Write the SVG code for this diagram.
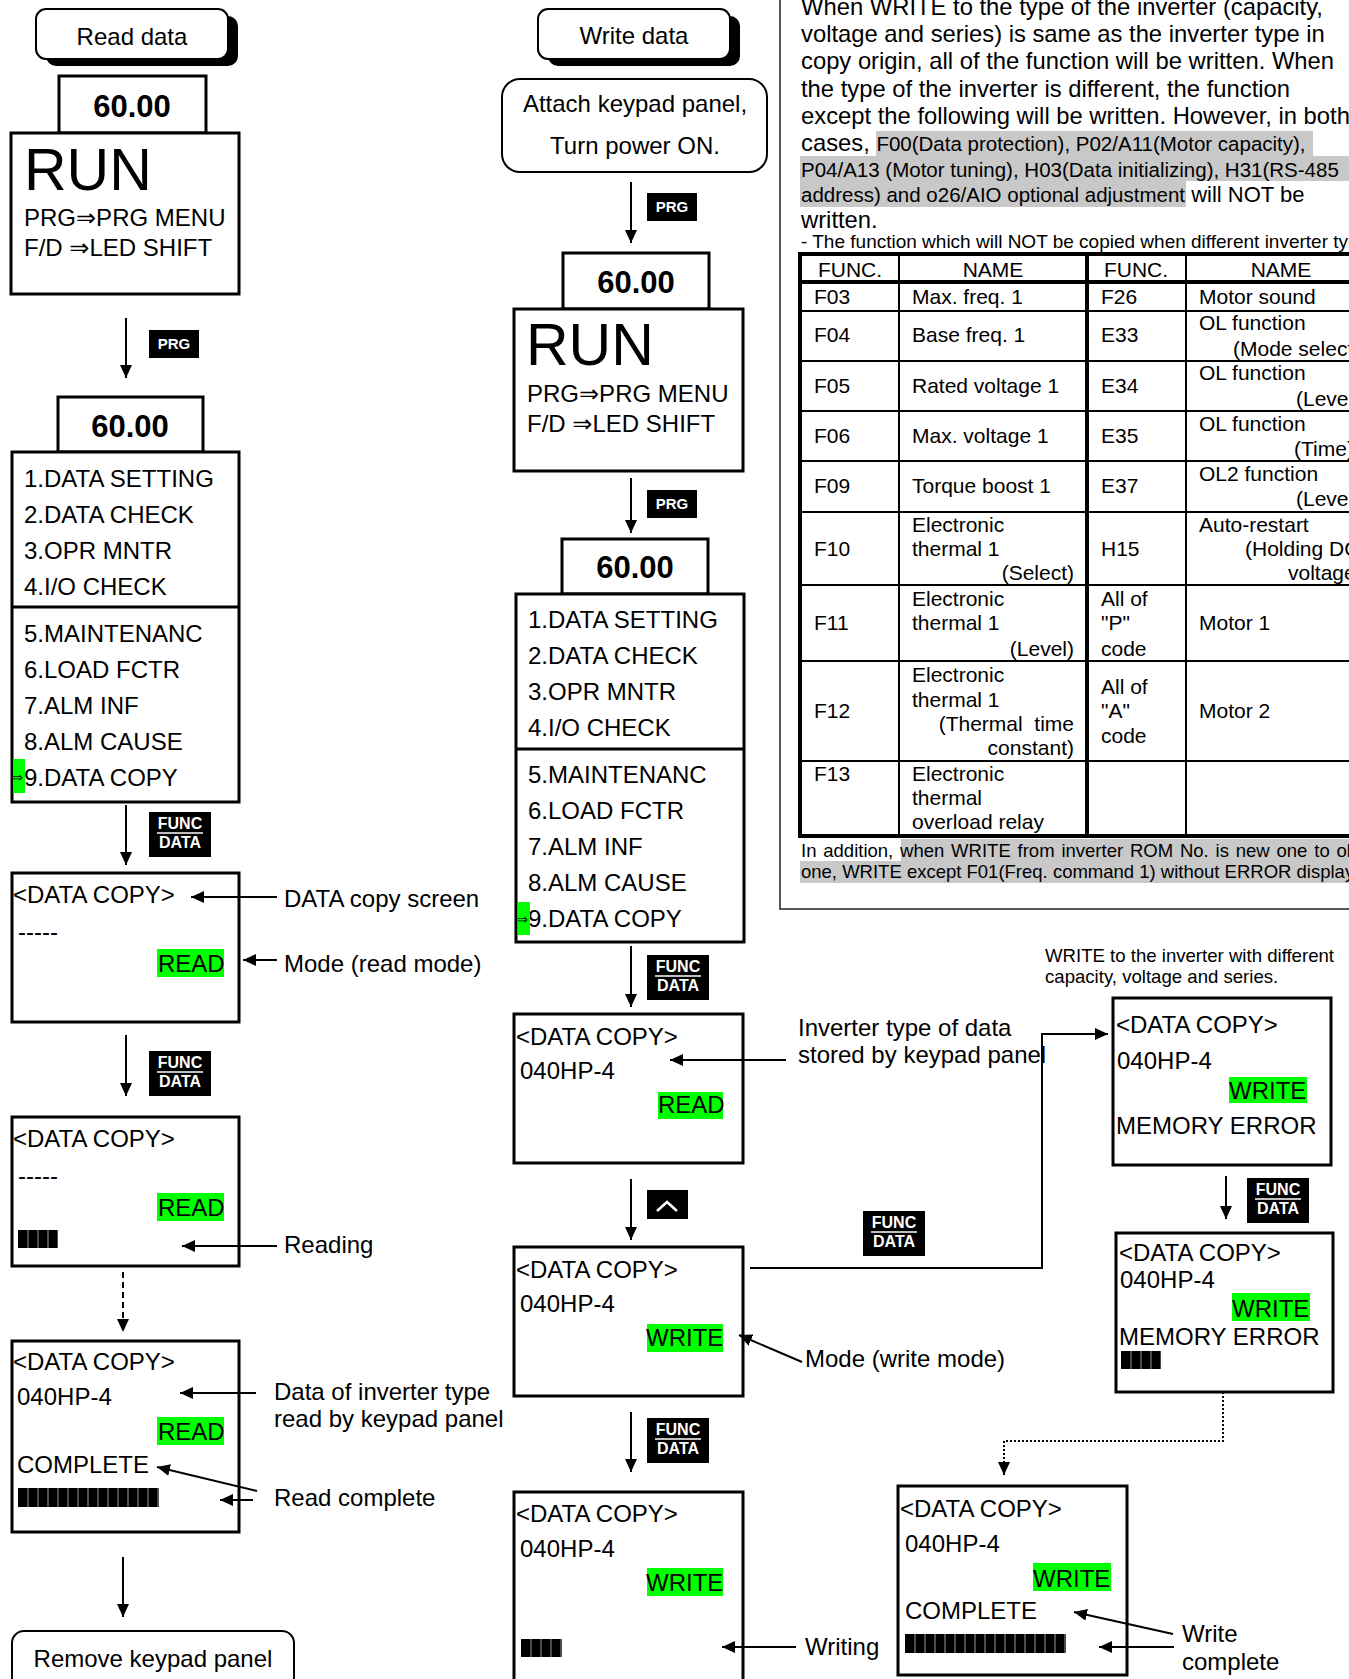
<svg xmlns="http://www.w3.org/2000/svg" width="1349" height="1679" viewBox="0 0 1349 1679">
<defs>
<marker id="ah" markerUnits="userSpaceOnUse" markerWidth="14" markerHeight="12" refX="13" refY="6" orient="auto"><path d="M0,0 L13,6 L0,12 z" fill="#000"/></marker>
<style>
text{font-family:"Liberation Sans",Arial,"DejaVu Sans",sans-serif;fill:#000}
.s24{font-size:24px}
.b{fill:#fff;stroke:#000;stroke-width:3}
.rb{fill:#fff;stroke:#000;stroke-width:2}
.c{fill:none;stroke:#000;stroke-width:2}
.ca{fill:none;stroke:#000;stroke-width:2;marker-end:url(#ah)}
.g{fill:#00ff00}
.num{font-size:31px;font-weight:bold;text-anchor:middle}
.run{font-size:59px}
.fdt{font-size:16px;font-weight:bold;fill:#fff;text-anchor:middle}
.pt{font-size:15px;font-weight:bold;fill:#fff;text-anchor:middle}
.p{font-size:23.8px}
.ps{font-size:20.5px}
.tb{font-size:21px}
.tm{text-anchor:middle}
.te{text-anchor:end}
.hl{fill:#c8c8c8}
.tk{stroke:#000;stroke-width:4}
.tn{stroke:#000;stroke-width:2}
.bar{stroke:#999;stroke-dasharray:1 9}
</style>
<g id="fd"><rect width="62" height="45" fill="#000"/><text x="31" y="17" class="fdt">FUNC</text><line x1="8" y1="21" x2="54" y2="21" stroke="#fff" stroke-width="1.5"/><text x="31" y="36" class="fdt">DATA</text></g>
<g id="prg"><rect width="50" height="28" fill="#000"/><text x="25" y="19" class="pt">PRG</text></g>
</defs>
<rect width="1349" height="1679" fill="#fff"/>

<!-- right info panel -->
<g id="info-panel">
<rect x="780" y="-10" width="620" height="919" fill="none" stroke="#555" stroke-width="2"/>
<rect class="hl" x="876" y="131" width="437" height="25"/>
<rect class="hl" x="800" y="156" width="549" height="25"/>
<rect class="hl" x="800" y="181" width="386" height="26"/>
<text class="p" x="801" y="15">When WRITE to the type of the inverter (capacity,</text>
<text class="p" x="801" y="42">voltage and series) is same as the inverter type in</text>
<text class="p" x="801" y="69">copy origin, all of the function will be written. When</text>
<text class="p" x="801" y="97">the type of the inverter is different, the function</text>
<text class="p" x="801" y="124">except the following will be written. However, in both</text>
<text class="p" x="801" y="151">cases, <tspan class="ps">F00(Data protection), P02/A11(Motor capacity),</tspan></text>
<text class="ps" x="801" y="177">P04/A13 (Motor tuning), H03(Data initializing), H31(RS-485</text>
<text class="ps" x="801" y="202">address) and o26/AIO optional adjustment<tspan font-size="22px"> will NOT be</tspan></text>
<text class="p" x="801" y="228">written.</text>
<text x="801" y="248" font-size="19px">- The function which will NOT be copied when different inverter type</text>
</g>

<g id="table">
<line class="tn" x1="800" y1="311" x2="1349" y2="311"/>
<line class="tn" x1="800" y1="361" x2="1349" y2="361"/>
<line class="tn" x1="800" y1="411" x2="1349" y2="411"/>
<line class="tn" x1="800" y1="461" x2="1349" y2="461"/>
<line class="tn" x1="800" y1="512" x2="1349" y2="512"/>
<line class="tn" x1="800" y1="585" x2="1349" y2="585"/>
<line class="tn" x1="800" y1="661" x2="1349" y2="661"/>
<line class="tn" x1="800" y1="761" x2="1349" y2="761"/>
<line class="tn" x1="899" y1="254" x2="899" y2="836"/>
<line class="tn" x1="1186" y1="254" x2="1186" y2="836"/>
<line class="tk" x1="1087" y1="254" x2="1087" y2="836"/>
<line class="tk" x1="800" y1="252" x2="800" y2="838"/>
<line class="tk" x1="798" y1="254" x2="1349" y2="254"/>
<line class="tk" x1="798" y1="282" x2="1349" y2="282"/>
<line class="tk" x1="798" y1="836" x2="1349" y2="836"/>
<g class="tb">
<text class="tm" x="850" y="277">FUNC.</text><text class="tm" x="993" y="277">NAME</text><text class="tm" x="1136" y="277">FUNC.</text><text class="tm" x="1281" y="277">NAME</text>
<text x="814" y="304">F03</text><text x="912" y="304">Max. freq. 1</text><text x="1101" y="304">F26</text><text x="1199" y="304">Motor sound</text>
<text x="814" y="342">F04</text><text x="912" y="342">Base freq. 1</text><text x="1101" y="342">E33</text><text x="1199" y="330">OL function</text><text x="1233" y="356">(Mode select)</text>
<text x="814" y="393">F05</text><text x="912" y="393">Rated voltage 1</text><text x="1101" y="393">E34</text><text x="1199" y="380">OL function</text><text x="1296" y="406">(Level)</text>
<text x="814" y="443">F06</text><text x="912" y="443">Max. voltage 1</text><text x="1101" y="443">E35</text><text x="1199" y="431">OL function</text><text x="1294" y="456">(Time)</text>
<text x="814" y="493">F09</text><text x="912" y="493">Torque boost 1</text><text x="1101" y="493">E37</text><text x="1199" y="481">OL2 function</text><text x="1296" y="506">(Level)</text>
<text x="814" y="556">F10</text><text x="912" y="532">Electronic</text><text x="912" y="556">thermal 1</text><text class="te" x="1074" y="580">(Select)</text><text x="1101" y="556">H15</text><text x="1199" y="532">Auto-restart</text><text x="1245" y="556">(Holding DC</text><text x="1288" y="580">voltage)</text>
<text x="814" y="630">F11</text><text x="912" y="606">Electronic</text><text x="912" y="630">thermal 1</text><text class="te" x="1074" y="656">(Level)</text><text x="1101" y="606">All of</text><text x="1101" y="630">"P"</text><text x="1101" y="656">code</text><text x="1199" y="630">Motor 1</text>
<text x="814" y="718">F12</text><text x="912" y="682">Electronic</text><text x="912" y="707">thermal 1</text><text class="te" x="1074" y="731" xml:space="preserve">(Thermal  time</text><text class="te" x="1074" y="755">constant)</text><text x="1101" y="694">All of</text><text x="1101" y="718">"A"</text><text x="1101" y="743">code</text><text x="1199" y="718">Motor 2</text>
<text x="814" y="781">F13</text><text x="912" y="781">Electronic</text><text x="912" y="805">thermal</text><text x="912" y="829">overload relay</text>
</g>
<rect class="hl" x="901" y="839" width="448" height="22"/>
<rect class="hl" x="800" y="861" width="549" height="22"/>
<text x="801" y="857" font-size="18.5px" word-spacing="1.7">In addition, when WRITE from inverter ROM No. is new one to old</text>
<text x="801" y="878" font-size="18.5px">one, WRITE except F01(Freq. command 1) without ERROR display.</text>
</g>

<!-- LEFT COLUMN -->
<g id="read-data"><rect x="46" y="16" width="192" height="50" rx="10" fill="#000"/><rect class="rb" x="36" y="9" width="192" height="50" rx="10"/><text class="s24 tm" x="132" y="45">Read data</text></g>
<g id="l-run"><rect class="b" x="59" y="76" width="147" height="57"/><text class="num" x="132" y="117">60.00</text><rect class="b" x="11" y="133" width="228" height="161"/><text class="run" x="24" y="190">RUN</text><text class="s24" x="24" y="226">PRG⇒PRG MENU</text><text class="s24" x="24" y="256">F/D ⇒LED SHIFT</text></g>
<g id="l-menu"><rect class="b" x="58" y="397" width="145" height="55"/><text class="num" x="130" y="437">60.00</text><rect class="b" x="12" y="452" width="227" height="350"/><line x1="12" y1="607" x2="239" y2="607" stroke="#000" stroke-width="3"/>
<g class="s24"><text x="24" y="487">1.DATA SETTING</text><text x="24" y="523">2.DATA CHECK</text><text x="24" y="559">3.OPR MNTR</text><text x="24" y="595">4.I/O CHECK</text><text x="24" y="642">5.MAINTENANC</text><text x="24" y="678">6.LOAD FCTR</text><text x="24" y="714">7.ALM INF</text><text x="24" y="750">8.ALM CAUSE</text><text x="24" y="786">9.DATA COPY</text></g>
<rect class="g" x="13" y="759" width="12" height="34"/><text x="12" y="782" font-size="13px">⇒</text></g>
<g id="l-dc1"><rect class="b" x="12" y="873" width="227" height="149"/><g class="s24"><text x="13" y="903">&lt;DATA COPY&gt;</text><text x="18" y="940">-----</text><rect class="g" x="157" y="949" width="67" height="28"/><text x="158" y="972">READ</text></g></g>
<g id="l-dc2"><rect class="b" x="12" y="1117" width="227" height="149"/><g class="s24"><text x="13" y="1147">&lt;DATA COPY&gt;</text><text x="18" y="1184">-----</text><rect class="g" x="157" y="1193" width="67" height="28"/><text x="158" y="1216">READ</text></g><rect x="18" y="1230" width="40" height="18" fill="#000"/><line class="bar" x1="27.5" y1="1239" x2="58" y2="1239" stroke-width="18"/></g>
<g id="l-dc3"><rect class="b" x="12" y="1341" width="227" height="191"/><g class="s24"><text x="13" y="1370">&lt;DATA COPY&gt;</text><text x="17" y="1405">040HP-4</text><rect class="g" x="157" y="1417" width="67" height="28"/><text x="158" y="1440">READ</text><text x="17" y="1473">COMPLETE</text></g><rect x="18" y="1488" width="141" height="19" fill="#000"/><line class="bar" x1="27.5" y1="1497.5" x2="159" y2="1497.5" stroke-width="19"/></g>
<g id="remove"><rect class="rb" x="12" y="1631" width="282" height="70" rx="12"/><text class="s24 tm" x="153" y="1667">Remove keypad panel</text></g>

<!-- MIDDLE COLUMN -->
<g id="write-data"><rect x="548" y="16" width="192" height="50" rx="10" fill="#000"/><rect class="rb" x="538" y="9" width="192" height="50" rx="10"/><text class="s24 tm" x="634" y="44">Write data</text></g>
<g id="attach"><rect class="rb" x="502" y="79" width="265" height="93" rx="18"/><text class="s24 tm" x="635" y="112">Attach keypad panel,</text><text class="s24 tm" x="635" y="154">Turn power ON.</text></g>
<g id="m-run"><rect class="b" x="563" y="253" width="146" height="56"/><text class="num" x="636" y="293">60.00</text><rect class="b" x="514" y="309" width="229" height="162"/><text class="run" x="526" y="365">RUN</text><text class="s24" x="527" y="402">PRG⇒PRG MENU</text><text class="s24" x="527" y="432">F/D ⇒LED SHIFT</text></g>
<g id="m-menu"><rect class="b" x="562" y="539" width="146" height="55"/><text class="num" x="635" y="578">60.00</text><rect class="b" x="516" y="594" width="228" height="348"/><line x1="516" y1="749" x2="744" y2="749" stroke="#000" stroke-width="3"/>
<g class="s24"><text x="528" y="628">1.DATA SETTING</text><text x="528" y="664">2.DATA CHECK</text><text x="528" y="700">3.OPR MNTR</text><text x="528" y="736">4.I/O CHECK</text><text x="528" y="783">5.MAINTENANC</text><text x="528" y="819">6.LOAD FCTR</text><text x="528" y="855">7.ALM INF</text><text x="528" y="891">8.ALM CAUSE</text><text x="528" y="927">9.DATA COPY</text></g>
<rect class="g" x="518" y="902" width="12" height="33"/><text x="517" y="924" font-size="13px">⇒</text></g>
<g id="m-dc1"><rect class="b" x="514" y="1014" width="229" height="149"/><g class="s24"><text x="516" y="1045">&lt;DATA COPY&gt;</text><text x="520" y="1079">040HP-4</text><rect class="g" x="658" y="1092" width="65" height="27"/><text x="658" y="1113">READ</text></g></g>
<g id="m-dc2"><rect class="b" x="514" y="1247" width="229" height="149"/><g class="s24"><text x="516" y="1278">&lt;DATA COPY&gt;</text><text x="520" y="1312">040HP-4</text><rect class="g" x="647" y="1324" width="76" height="28"/><text x="646" y="1346">WRITE</text></g></g>
<g id="m-dc3"><rect class="b" x="514" y="1492" width="229" height="210"/><g class="s24"><text x="516" y="1522">&lt;DATA COPY&gt;</text><text x="520" y="1557">040HP-4</text><rect class="g" x="647" y="1568" width="76" height="28"/><text x="646" y="1591">WRITE</text></g><rect x="521" y="1639" width="41" height="18" fill="#000"/><line class="bar" x1="530.5" y1="1648" x2="562" y2="1648" stroke-width="18"/></g>

<!-- RIGHT COLUMN -->
<g id="r-note"><text x="1045" y="962" font-size="18.6px">WRITE to the inverter with different</text><text x="1045" y="983" font-size="18.6px">capacity, voltage and series.</text></g>
<g id="r-dc1"><rect class="b" x="1113" y="998" width="218" height="167"/><g class="s24"><text x="1116" y="1033">&lt;DATA COPY&gt;</text><text x="1117" y="1069">040HP-4</text><rect class="g" x="1229" y="1077" width="78" height="26"/><text x="1229" y="1099">WRITE</text><text x="1116" y="1134">MEMORY ERROR</text></g></g>
<g id="r-dc2"><rect class="b" x="1116" y="1233" width="217" height="159"/><g class="s24"><text x="1119" y="1261">&lt;DATA COPY&gt;</text><text x="1120" y="1288">040HP-4</text><rect class="g" x="1232" y="1293" width="78" height="28"/><text x="1232" y="1317">WRITE</text><text x="1119" y="1345">MEMORY ERROR</text></g><rect x="1121" y="1351" width="40" height="18" fill="#000"/><line class="bar" x1="1130.5" y1="1360" x2="1161" y2="1360" stroke-width="18"/></g>
<g id="r-dc3"><rect class="b" x="898" y="1486" width="229" height="189"/><g class="s24"><text x="900" y="1517">&lt;DATA COPY&gt;</text><text x="905" y="1552">040HP-4</text><rect class="g" x="1033" y="1563" width="78" height="28"/><text x="1033" y="1587">WRITE</text><text x="905" y="1619">COMPLETE</text></g><rect x="905" y="1634" width="161" height="19" fill="#000"/><line class="bar" x1="914.5" y1="1643.5" x2="1066" y2="1643.5" stroke-width="19"/></g>

<!-- labels -->
<g id="labels" class="s24">
<text x="284" y="907">DATA copy screen</text>
<text x="284" y="972">Mode (read mode)</text>
<text x="284" y="1253">Reading</text>
<text x="274" y="1400">Data of inverter type</text>
<text x="274" y="1427">read by keypad panel</text>
<text x="274" y="1506">Read complete</text>
<text x="798" y="1036">Inverter type of data</text>
<text x="798" y="1063">stored by keypad panel</text>
<text x="805" y="1367">Mode (write mode)</text>
<text x="805" y="1655">Writing</text>
<text x="1182" y="1642">Write</text>
<text x="1182" y="1670">complete</text>
</g>

<!-- CONNECTORS -->
<g id="connectors">
<line class="ca" x1="126" y1="318" x2="126" y2="378"/>
<line class="ca" x1="126" y1="805" x2="126" y2="865"/>
<line class="ca" x1="126" y1="1035" x2="126" y2="1096"/>
<line class="ca" x1="123" y1="1272" x2="123" y2="1332" stroke-dasharray="6 4"/>
<line class="ca" x1="123" y1="1557" x2="123" y2="1617"/>
<line class="ca" x1="631" y1="182" x2="631" y2="243"/>
<line class="ca" x1="631" y1="478" x2="631" y2="533"/>
<line class="ca" x1="631" y1="946" x2="631" y2="1007"/>
<line class="ca" x1="631" y1="1179" x2="631" y2="1240"/>
<line class="ca" x1="631" y1="1412" x2="631" y2="1472"/>
<polyline class="ca" points="750,1268 1042,1268 1042,1034 1108,1034"/>
<line class="ca" x1="1226" y1="1176" x2="1226" y2="1219"/>
<polyline class="ca" points="1223,1392 1223,1441 1004,1441 1004,1475" stroke-dasharray="2 2"/>
<line class="ca" x1="277" y1="897" x2="191" y2="897"/>
<line class="ca" x1="277" y1="960" x2="243" y2="960"/>
<line class="ca" x1="277" y1="1246" x2="182" y2="1246"/>
<line class="ca" x1="256" y1="1393" x2="180" y2="1393"/>
<line class="ca" x1="257" y1="1491" x2="157" y2="1467"/>
<line class="ca" x1="253" y1="1500" x2="220" y2="1500"/>
<line class="ca" x1="786" y1="1060" x2="670" y2="1060"/>
<line class="ca" x1="802" y1="1362" x2="739" y2="1335"/>
<line class="ca" x1="796" y1="1647" x2="722" y2="1647"/>
<line class="ca" x1="1173" y1="1634" x2="1074" y2="1612"/>
<line class="ca" x1="1174" y1="1647" x2="1099" y2="1647"/>
<use href="#prg" x="149" y="330"/>
<use href="#fd" x="149" y="812"/>
<use href="#fd" x="149" y="1051"/>
<use href="#prg" x="647" y="193"/>
<use href="#prg" x="647" y="490"/>
<use href="#fd" x="647" y="955"/>
<g><rect x="647" y="1190" width="41" height="29" fill="#000"/><polyline points="657,1211 667,1202 677,1211" fill="none" stroke="#fff" stroke-width="2.5"/></g>
<use href="#fd" x="647" y="1418"/>
<use href="#fd" x="863" y="1211"/>
<use href="#fd" x="1247" y="1178"/>
</g>
</svg>
